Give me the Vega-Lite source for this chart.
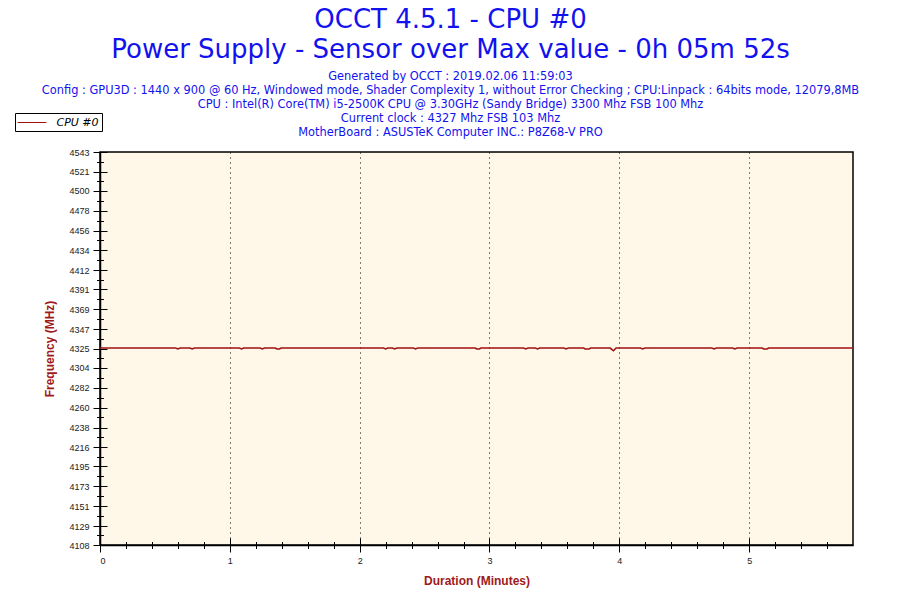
{
  "$schema": "https://vega.github.io/schema/vega-lite/v6.json",
  "autosize": "none",
  "width": 753,
  "height": 393,
  "padding": {"top": 152, "left": 100, "right": 47, "bottom": 55},
  "background": "white",
  "title": {
    "text": ["OCCT 4.5.1 - CPU #0", "Power Supply - Sensor over Max value - 0h 05m 52s"],
    "subtitle": [
      "Generated by OCCT : 2019.02.06 11:59:03",
      "Config : GPU3D : 1440 x 900 @ 60 Hz, Windowed mode, Shader Complexity 1, without Error Checking ; CPU:Linpack : 64bits mode, 12079,8MB",
      "CPU : Intel(R) Core(TM) i5-2500K CPU @ 3.30GHz (Sandy Bridge) 3300 Mhz FSB 100 Mhz",
      "Current clock : 4327 Mhz FSB 103 Mhz",
      "MotherBoard : ASUSTeK Computer INC.: P8Z68-V PRO"
    ],
    "anchor": "middle",
    "dx": -26,
    "offset": -26,
    "font": "DejaVu Sans",
    "fontSize": 26,
    "fontWeight": "normal",
    "lineHeight": 30,
    "color": "#1212ee",
    "subtitleFont": "DejaVu Sans",
    "subtitleFontSize": 11.4,
    "subtitleLineHeight": 14,
    "subtitleColor": "#1212ee",
    "subtitlePadding": 8
  },
  "data": {
    "values": [
      {"t": 0, "v": 4326, "s": "CPU #0"},
      {"t": 0.583, "v": 4326, "s": "CPU #0"},
      {"t": 0.6, "v": 4325, "s": "CPU #0"},
      {"t": 0.617, "v": 4326, "s": "CPU #0"},
      {"t": 0.693, "v": 4326, "s": "CPU #0"},
      {"t": 0.71, "v": 4325, "s": "CPU #0"},
      {"t": 0.727, "v": 4326, "s": "CPU #0"},
      {"t": 1.073, "v": 4326, "s": "CPU #0"},
      {"t": 1.09, "v": 4325, "s": "CPU #0"},
      {"t": 1.107, "v": 4326, "s": "CPU #0"},
      {"t": 1.233, "v": 4326, "s": "CPU #0"},
      {"t": 1.25, "v": 4325, "s": "CPU #0"},
      {"t": 1.267, "v": 4326, "s": "CPU #0"},
      {"t": 1.35, "v": 4326, "s": "CPU #0"},
      {"t": 1.362, "v": 4325, "s": "CPU #0"},
      {"t": 1.382, "v": 4325, "s": "CPU #0"},
      {"t": 1.395, "v": 4326, "s": "CPU #0"},
      {"t": 2.183, "v": 4326, "s": "CPU #0"},
      {"t": 2.2, "v": 4325, "s": "CPU #0"},
      {"t": 2.217, "v": 4326, "s": "CPU #0"},
      {"t": 2.253, "v": 4326, "s": "CPU #0"},
      {"t": 2.27, "v": 4325, "s": "CPU #0"},
      {"t": 2.287, "v": 4326, "s": "CPU #0"},
      {"t": 2.413, "v": 4326, "s": "CPU #0"},
      {"t": 2.43, "v": 4325, "s": "CPU #0"},
      {"t": 2.447, "v": 4326, "s": "CPU #0"},
      {"t": 2.89, "v": 4326, "s": "CPU #0"},
      {"t": 2.902, "v": 4325, "s": "CPU #0"},
      {"t": 2.922, "v": 4325, "s": "CPU #0"},
      {"t": 2.935, "v": 4326, "s": "CPU #0"},
      {"t": 3.263, "v": 4326, "s": "CPU #0"},
      {"t": 3.28, "v": 4325, "s": "CPU #0"},
      {"t": 3.297, "v": 4326, "s": "CPU #0"},
      {"t": 3.353, "v": 4326, "s": "CPU #0"},
      {"t": 3.37, "v": 4325, "s": "CPU #0"},
      {"t": 3.387, "v": 4326, "s": "CPU #0"},
      {"t": 3.573, "v": 4326, "s": "CPU #0"},
      {"t": 3.59, "v": 4325, "s": "CPU #0"},
      {"t": 3.607, "v": 4326, "s": "CPU #0"},
      {"t": 3.725, "v": 4326, "s": "CPU #0"},
      {"t": 3.737, "v": 4325, "s": "CPU #0"},
      {"t": 3.767, "v": 4325, "s": "CPU #0"},
      {"t": 3.78, "v": 4326, "s": "CPU #0"},
      {"t": 3.93, "v": 4326, "s": "CPU #0"},
      {"t": 3.955, "v": 4323, "s": "CPU #0"},
      {"t": 3.975, "v": 4326, "s": "CPU #0"},
      {"t": 4.163, "v": 4326, "s": "CPU #0"},
      {"t": 4.18, "v": 4325, "s": "CPU #0"},
      {"t": 4.197, "v": 4326, "s": "CPU #0"},
      {"t": 4.713, "v": 4326, "s": "CPU #0"},
      {"t": 4.73, "v": 4325, "s": "CPU #0"},
      {"t": 4.747, "v": 4326, "s": "CPU #0"},
      {"t": 4.873, "v": 4326, "s": "CPU #0"},
      {"t": 4.89, "v": 4325, "s": "CPU #0"},
      {"t": 4.907, "v": 4326, "s": "CPU #0"},
      {"t": 5.1, "v": 4326, "s": "CPU #0"},
      {"t": 5.112, "v": 4325, "s": "CPU #0"},
      {"t": 5.137, "v": 4325, "s": "CPU #0"},
      {"t": 5.15, "v": 4326, "s": "CPU #0"},
      {"t": 5.8, "v": 4326, "s": "CPU #0"}
    ]
  },
  "encoding": {
    "x": {"field": "t", "type": "quantitative", "scale": {"domain": [0, 5.8], "nice": false, "zero": false}},
    "y": {"field": "v", "type": "quantitative", "scale": {"domain": [4108, 4543], "nice": false, "zero": false}}
  },
  "layer": [
    {
      "mark": {"type": "line", "strokeWidth": 1.6, "interpolate": "linear"},
      "encoding": {
        "x": {
          "field": "t", "type": "quantitative",
          "axis": {
            "orient": "bottom", "values": [0, 1, 2, 3, 4, 5], "tickSize": 7, "format": "d",
            "grid": true, "gridColor": "black", "gridDash": [1, 4], "gridWidth": 1, "gridOpacity": 1,
            "title": "Duration (Minutes)", "titlePadding": 10
          }
        },
        "y": {
          "field": "v", "type": "quantitative",
          "axis": {
            "orient": "left", "format": "d",
            "values": [4108, 4129, 4151, 4173, 4195, 4216, 4238, 4260, 4282, 4304, 4325, 4347, 4369, 4391, 4412, 4434, 4456, 4478, 4500, 4521, 4543],
            "tickSize": 7, "grid": false,
            "title": "Frequency (MHz)", "titlePadding": 12
          }
        },
        "color": {
          "field": "s", "type": "nominal",
          "scale": {"range": ["#a31010"]},
          "legend": {
            "orient": "none", "legendX": -85, "legendY": -39, "title": null,
            "symbolType": "M-2.4,0H2.4", "symbolSize": 144, "symbolStrokeWidth": 1,
            "symbolOffset": 7.5, "labelOffset": 18,
            "labelFontStyle": "italic", "labelFont": "DejaVu Sans", "labelFontSize": 11, "labelColor": "black",
            "strokeColor": "black", "padding": 3, "fillColor": "white"
          }
        }
      }
    },
    {
      "mark": {"type": "point", "opacity": 0},
      "encoding": {
        "x": {
          "field": "t", "type": "quantitative",
          "axis": {"orient": "bottom", "offset": -7, "values": [0, 1, 2, 3, 4, 5], "tickSize": 7, "labels": false, "domain": false, "grid": false, "title": null}
        },
        "y": {
          "field": "v", "type": "quantitative",
          "axis": {
            "orient": "left", "offset": -7,
            "values": [4108, 4129, 4151, 4173, 4195, 4216, 4238, 4260, 4282, 4304, 4325, 4347, 4369, 4391, 4412, 4434, 4456, 4478, 4500, 4521, 4543],
            "tickSize": 7, "labels": false, "domain": false, "grid": false, "title": null
          }
        }
      }
    },
    {
      "mark": {"type": "point", "opacity": 0},
      "encoding": {
        "x": {
          "field": "t", "type": "quantitative",
          "axis": {
            "orient": "bottom", "offset": -3.5,
            "values": [0.2, 0.4, 0.6, 0.8, 1.2, 1.4, 1.6, 1.8, 2.2, 2.4, 2.6, 2.8, 3.2, 3.4, 3.6, 3.8, 4.2, 4.4, 4.6, 4.8, 5.2, 5.4, 5.6],
            "tickSize": 7, "labels": false, "domain": false, "grid": false, "title": null
          }
        },
        "y": {
          "field": "v", "type": "quantitative",
          "axis": {
            "orient": "left", "offset": -3.5,
            "values": [4118.9, 4140.6, 4162.4, 4184.1, 4205.9, 4227.6, 4249.4, 4271.1, 4292.9, 4314.6, 4336.4, 4358.1, 4379.9, 4401.6, 4423.4, 4445.1, 4466.9, 4488.6, 4510.4, 4532.1],
            "tickSize": 7, "labels": false, "domain": false, "grid": false, "title": null
          }
        }
      }
    }
  ],
  "resolve": {"axis": {"x": "independent", "y": "independent"}},
  "config": {
    "view": {"fill": "#fff7e8", "stroke": "black", "strokeWidth": 1.5},
    "axis": {
      "domainColor": "black", "domainWidth": 1.5, "tickColor": "black", "tickWidth": 1,
      "labelFont": "Liberation Sans", "labelFontSize": 9, "labelColor": "#222222", "labelPadding": 4,
      "titleFont": "Liberation Sans Narrow, Liberation Sans", "titleFontSize": 12, "titleFontWeight": "bold", "titleColor": "#9e1a1a"
    }
  }
}
